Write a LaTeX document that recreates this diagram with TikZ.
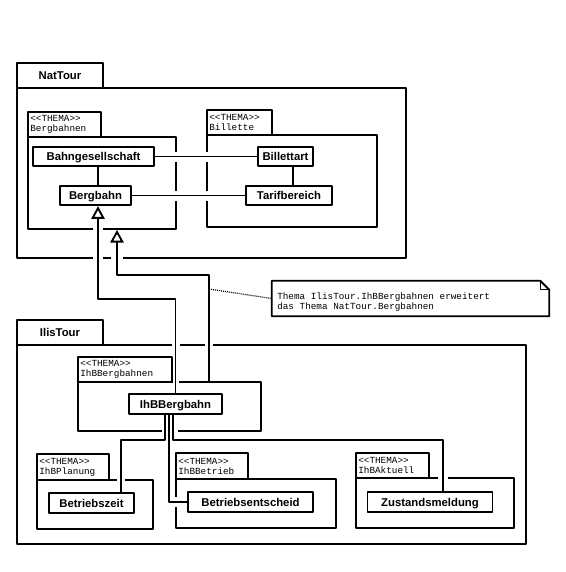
\documentclass[tikz,border=0pt]{standalone}
\usepackage{fontspec}
\setsansfont{Liberation Sans}
\setmonofont{Liberation Mono}
\usetikzlibrary{arrows.meta,positioning,calc,fit}
\newcommand \mypkg[7]
{
\node[tab, fit={(#2,#3) (#4,#5)}] (#1Tab) {};
\node[pkg, fit={(#2,#5) (#6,#7)}] (#1)    {};
}
\newcommand \mygapx[3]
{
\fill[white] (#1-#3,#2-2) rectangle (#1+#3,#2+2);
}
\newcommand \mygapy[3]
{
\fill[white] (#1-2,#2-#3) rectangle (#1+2,#2+#3);
}
\begin{document}
\begin{tikzpicture}[x=0.75pt, y=-0.75pt, line join=round,
  tab/.style={draw, line width=1.4pt, inner sep=0pt},
  pkg/.style={draw, line width=1.4pt, inner sep=0pt},
  pkgname/.style={inner sep=0pt, font=\fontsize{8.5}{10}\selectfont\sffamily\bfseries},
  thema/.style={inner sep=0pt, align=left, anchor=west, font=\fontsize{7}{7.5}\selectfont\ttfamily},
  cls/.style={draw, fill=white, line width=1.4pt, inner sep=0pt, minimum height=14.6pt, text height=8pt, text depth=1.7pt, font=\fontsize{8.5}{10}\selectfont\sffamily\bfseries},
  assoc/.style={line width=1.4pt},
  inherit/.style={line width=1.4pt, -{Triangle[open, length=9.5pt, width=10pt]}},
  notelink/.style={line width=0.9pt, dash pattern=on 0.75pt off 0.75pt},
  notetext/.style={inner sep=0pt, align=left, font=\fontsize{7}{8}\selectfont\ttfamily}]
\useasboundingbox (0,0) rectangle (565,572);
% packages
\mypkg{NatTour}{17}{63}{103}{88}{406}{258}
\mypkg{Bergbahnen}{28}{112}{101}{137}{176}{229}
\mypkg{Billette}{207}{110}{272}{135}{377}{227}
\mypkg{IlisTour}{17}{320}{103}{345}{526}{544}
\mypkg{IhBBergbahnen}{78}{357}{172}{382}{261}{431}
\mypkg{IhBPlanung}{37}{454}{109}{480}{153}{529}
\mypkg{IhBBetrieb}{176}{453}{248}{479}{336}{528}
\mypkg{IhBAktuell}{356}{453}{429}{478}{514}{528}
\node[pkgname] (NatTourName)  at (NatTourTab)  {NatTour};
\node[pkgname] (IlisTourName) at (IlisTourTab) {IlisTour};
\node[thema] (BergbahnenName)    at ($(BergbahnenTab.west)+(3,0)$)    {<{}<THEMA>{}>\\Bergbahnen};
\node[thema] (BilletteName)      at ($(BilletteTab.west)+(3,0)$)      {<{}<THEMA>{}>\\Billette};
\node[thema] (IhBBergbahnenName) at ($(IhBBergbahnenTab.west)+(3,0)$) {<{}<THEMA>{}>\\IhBBergbahnen};
\node[thema] (IhBPlanungName)    at ($(IhBPlanungTab.west)+(3,0)$)    {<{}<THEMA>{}>\\IhBPlanung};
\node[thema] (IhBBetriebName)    at ($(IhBBetriebTab.west)+(3,0)$)    {<{}<THEMA>{}>\\IhBBetrieb};
\node[thema] (IhBAktuellName)    at ($(IhBAktuellTab.west)+(3,0)$)    {<{}<THEMA>{}>\\IhBAktuell};
% gaps where lines cross the package frames
\mygapy{176}{157}{5}
\mygapy{176}{196}{5}
\mygapy{207}{157}{5}
\mygapy{207}{196}{5}
\mygapx{98}{229}{5}
\mygapx{98}{258}{5}
\mygapx{117}{258}{6}
\mygapx{176}{345}{4}
\mygapx{209}{345}{4}
\mygapx{176}{382}{3}
\mygapx{170}{431}{8}
\mygapx{121}{480}{4}
\mygapx{443}{478}{5}
\mygapy{176}{502}{5}
% classes
\node[cls, minimum width=90.75pt] (Bahngesellschaft)  at (93.5,156.5) {Bahngesellschaft};
\node[cls, minimum width=53.25pt] (Bergbahn)          at (95.5,195.5) {Bergbahn};
\node[cls, minimum width=41.25pt] (Billettart)        at (285.5,156.5) {Billettart};
\node[cls, minimum width=64.5pt]  (Tarifbereich)      at (289,195.5)  {Tarifbereich};
\node[cls, minimum width=69.75pt] (IhBBergbahn)       at (175.5,404)  {IhBBergbahn};
\node[cls, minimum width=63.75pt] (Betriebszeit)      at (91.5,503)   {Betriebszeit};
\node[cls, minimum width=93.75pt] (Betriebsentscheid) at (250.5,502)  {Betriebsentscheid};
\node[cls, minimum width=93.75pt] (Zustandsmeldung)   at (430,502)    {Zustandsmeldung};
% bend points
\coordinate (g1) at (98,299);
\coordinate (k1) at (209,275);
\coordinate (k2) at (117,275);
\coordinate (k3) at (209,289);
\coordinate (t1) at (293,176);
\coordinate (a1) at (165,440);
\coordinate (a2) at (121,440);
\coordinate (b1) at (169,470);
\coordinate (c1) at (173,440);
\coordinate (c2) at (443,440);
% connectors
\draw[assoc] (Bahngesellschaft) -- (Billettart);
\draw[assoc] (Bergbahn) -- (Tarifbereich);
\draw[assoc] (Bahngesellschaft.south -| g1) -- (Bergbahn.north -| g1);
\draw[assoc] (Billettart.south -| t1) -- (Tarifbereich.north -| t1);
\draw[inherit] (IhBBergbahn.north) |- (g1) -- (Bergbahn.south -| g1);
\draw[inherit] (IhBBergbahnen.north -| k1) -- (k1) -- (k2) -- (Bergbahnen.south -| k2);
\draw[assoc] (IhBBergbahn.south -| a1) -- (a1) -- (a2) -- (Betriebszeit.north -| a2);
\draw[assoc] (IhBBergbahn.south -| b1) |- (Betriebsentscheid.west);
\draw[assoc] (IhBBergbahn.south -| c1) -- (c1) -- (c2) -- (Zustandsmeldung.north -| c2);
% note
\node[inner sep=0pt, fit={(272,281) (549,316)}] (Note) {};
\draw[line width=1.4pt] (Note.north west) -- ($(Note.north east)+(-9,0)$) -- ($(Note.north east)+(0,9)$) -- (Note.south east) -- (Note.south west) -- cycle;
\draw[line width=0.6pt] ($(Note.north east)+(-9,0)$) -- ($(Note.north east)+(-9,9)$) -- ($(Note.north east)+(0,9)$);
\node[notetext, anchor=north west] (NoteText) at (277,292) {Thema IlisTour.IhBBergbahnen erweitert\\das Thema NatTour.Bergbahnen};
\draw[notelink] (k3) -- (Note.west);
\end{tikzpicture}
\end{document}
